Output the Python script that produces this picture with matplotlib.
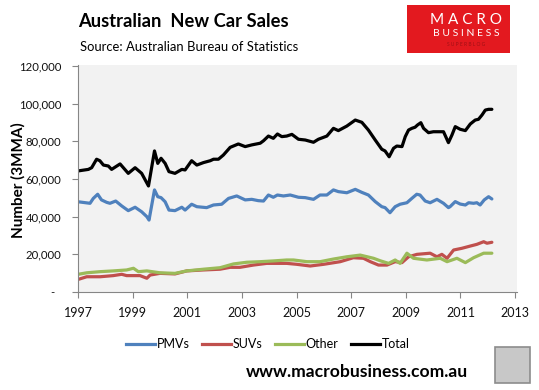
import matplotlib
matplotlib.use("Agg")
import matplotlib.pyplot as plt
from matplotlib.patches import Rectangle
from matplotlib.lines import Line2D

plt.rcParams['font.family'] = ['Lato', 'DejaVu Sans']

# ---- data (decimal years, units) ----
total_years = [1997.01, 1997.38, 1997.50, 1997.68, 1997.80, 1997.93, 1998.11, 1998.23, 1998.54, 1998.84,
               1999.09, 1999.33, 1999.58, 1999.80, 1999.92, 2000.04, 2000.19, 2000.33, 2000.55, 2000.80,
               2000.92, 2001.16, 2001.35, 2001.59, 2001.84, 2001.96, 2002.14, 2002.32, 2002.57, 2002.87,
               2003.12, 2003.36, 2003.67, 2003.79, 2003.97, 2004.15, 2004.30, 2004.46, 2004.64, 2004.83,
               2005.07, 2005.32, 2005.62, 2005.80, 2006.11, 2006.35, 2006.53, 2006.84, 2007.15, 2007.39,
               2007.63, 2007.88, 2008.12, 2008.24, 2008.39, 2008.55, 2008.67, 2008.86, 2008.98, 2009.10,
               2009.22, 2009.34, 2009.43, 2009.55, 2009.65, 2009.83, 2010.01, 2010.20, 2010.38, 2010.56,
               2010.69, 2010.81, 2010.99, 2011.18, 2011.36, 2011.54, 2011.66, 2011.79, 2011.91, 2012.03,
               2012.15]
total_values = [64300, 65100, 66000, 70500, 69700, 67400, 66900, 65100, 68000, 63000,
                66000, 63000, 56300, 74900, 68300, 71000, 68300, 63900, 63000, 65100,
                64800, 69700, 67400, 68700, 69700, 70500, 70500, 72700, 76800, 78600,
                77200, 78100, 79000, 80300, 82800, 81600, 83900, 82500, 82800, 83700,
                81100, 80700, 79500, 81100, 82800, 86900, 85700, 88100, 91300, 90100,
                86000, 80700, 75800, 74900, 71800, 76300, 77500, 77200, 82500, 86000,
                86900, 87500, 88700, 89900, 86900, 84600, 85100, 85100, 85100, 79300,
                83400, 87800, 86400, 85700, 89200, 91300, 91700, 94000, 96600, 97000,
                97000]

pmv_years = [1997.01, 1997.44, 1997.56, 1997.72, 1997.86, 1998.05, 1998.17, 1998.38, 1998.60, 1998.84,
             1999.09, 1999.33, 1999.52, 1999.60, 1999.80, 1999.92, 2000.04, 2000.19, 2000.33, 2000.55,
             2000.80, 2000.92, 2001.16, 2001.35, 2001.71, 2001.96, 2002.26, 2002.51, 2002.81, 2003.12,
             2003.36, 2003.60, 2003.79, 2003.97, 2004.15, 2004.30, 2004.52, 2004.77, 2005.07, 2005.32,
             2005.62, 2005.86, 2006.11, 2006.35, 2006.53, 2006.84, 2007.15, 2007.39, 2007.63, 2007.88,
             2008.12, 2008.24, 2008.42, 2008.61, 2008.79, 2009.04, 2009.22, 2009.40, 2009.52, 2009.71,
             2009.89, 2010.14, 2010.38, 2010.56, 2010.62, 2010.81, 2010.99, 2011.18, 2011.30, 2011.48,
             2011.60, 2011.72, 2011.87, 2012.03, 2012.15]
pmv_values = [47900, 47100, 49700, 51900, 48900, 47600, 47100, 48300, 45700, 43200,
              45000, 42600, 40000, 38200, 54200, 50600, 50100, 47900, 43500, 43200,
              45000, 43500, 46600, 45300, 44800, 46200, 46600, 49700, 51000, 48900,
              49200, 48500, 48300, 51500, 50300, 51500, 51000, 51500, 50300, 50100,
              49200, 51500, 51500, 54200, 53300, 52700, 54500, 52900, 51500, 48000,
              45300, 44800, 42100, 45300, 46600, 47400, 49700, 51900, 51500, 48300,
              47400, 49200, 47100, 44800, 45300, 48000, 46700, 46200, 47400, 47100,
              47400, 46200, 48900, 50600, 49400]

suv_years = [1997.01, 1997.32, 1997.81, 1998.29, 1998.60, 1998.78, 1999.27, 1999.52, 1999.64, 2000.00,
             2000.55, 2000.98, 2001.59, 2002.20, 2002.57, 2002.93, 2003.42, 2003.91, 2004.40, 2004.64,
             2005.01, 2005.50, 2005.99, 2006.60, 2007.08, 2007.45, 2007.70, 2008.00, 2008.31, 2008.61,
             2008.86, 2009.10, 2009.41, 2009.89, 2010.14, 2010.32, 2010.51, 2010.75, 2011.05, 2011.36,
             2011.60, 2011.85, 2011.97, 2012.15]
suv_values = [6700, 8100, 8100, 8700, 9400, 8700, 8700, 7300, 9000, 9900,
              9600, 11200, 11700, 12100, 13100, 13100, 14300, 15200, 15200, 15200,
              14700, 13800, 14700, 16100, 18200, 17900, 16100, 14300, 14300, 16100,
              15600, 18700, 20000, 20600, 18700, 20000, 17900, 22300, 23200, 24400,
              25300, 26700, 25900, 26400]

other_years = [1997.01, 1997.32, 1997.81, 1998.29, 1998.78, 1999.03, 1999.21, 1999.52, 2000.00, 2000.55,
               2000.98, 2001.59, 2002.20, 2002.69, 2003.18, 2003.67, 2004.15, 2004.64, 2004.89, 2005.38,
               2005.86, 2006.35, 2006.84, 2007.33, 2007.82, 2008.06, 2008.37, 2008.61, 2008.79, 2009.04,
               2009.28, 2009.77, 2010.26, 2010.51, 2010.87, 2011.18, 2011.48, 2011.85, 2012.15]
other_values = [9400, 10200, 10800, 11200, 11700, 12600, 10800, 11200, 10200, 9900,
                11200, 12100, 12900, 14900, 15800, 16100, 16500, 17000, 17000, 16100,
                16100, 17500, 18700, 19600, 17900, 16600, 15200, 17000, 15200, 20600,
                17900, 17000, 17900, 16100, 17900, 15600, 18200, 20600, 20600]

series_names = ['PMVs', 'SUVs', 'Other', 'Total']
series_colors = ['#4f81bd', '#c0504d', '#9bbb59', '#000000']
x_ticks = [1997, 1999, 2001, 2003, 2005, 2007, 2009, 2011, 2013]
y_ticks = [0, 20000, 40000, 60000, 80000, 100000, 120000]
y_tick_labels = ['-  ', '20,000', '40,000', '60,000', '80,000', '100,000', '120,000']

W, H = 539, 390
fig = plt.figure(figsize=(W / 100, H / 100), dpi=100)
fig.patch.set_facecolor('white')

ax = fig.add_axes([78 / W, 1 - 292 / H, (517 - 78) / W, (292 - 65) / H])
ax.set_facecolor('#f2f2f2')

lw = 2.3
data = [(pmv_years, pmv_values), (suv_years, suv_values),
        (other_years, other_values), (total_years, total_values)]
for (xs, ys), c, n in zip(data, series_colors, series_names):
    ax.plot(xs, ys, color=c, lw=lw, label=n, solid_joinstyle='round', solid_capstyle='round')

ax.set_xlim(1997, 2013.07)
ax.set_ylim(0, 120531)
ax.set_xticks(x_ticks)
ax.set_xticklabels([str(t) for t in x_ticks])
ax.set_yticks(y_ticks)
ax.set_yticklabels(y_tick_labels)

for s in ['top', 'right']:
    ax.spines[s].set_visible(False)
for s in ['left', 'bottom']:
    ax.spines[s].set_color('#868686')
    ax.spines[s].set_linewidth(0.8)
ax.tick_params(axis='both', direction='out', length=4, width=0.8, color='#868686',
               labelsize=9, labelcolor='#111111')
ax.tick_params(axis='y', pad=8, labelsize=8.2)
ax.tick_params(axis='x', pad=7)

# y label
fig.text(18 / W, 1 - 180 / H, 'Number (3MMA)', rotation=90, fontsize=11, fontweight='bold',
         ha='center', va='center')

# title / subtitle
fig.text(78 / W, 1 - 27 / H, 'Australian  New Car Sales', fontsize=13.2, fontweight='bold',
         ha='left', va='baseline')
fig.text(80 / W, 1 - 51 / H, 'Source: Australian Bureau of Statistics', fontsize=9.4,
         ha='left', va='baseline')

# logo
fig.patches.append(Rectangle((407 / W, 1 - 53 / H), 103 / W, 48 / H, transform=fig.transFigure,
                             facecolor='#e3191f', edgecolor='none', zorder=1))
fig.text(466 / W, 1 - 20 / H, 'M A C R O', fontsize=11, color='white', ha='center', va='center')
fig.text(466 / W, 1 - 33 / H, 'B U S I N E S S', fontsize=7.5, color='white', ha='center', va='center')
fig.text(466 / W, 1 - 44 / H, 'S U P E R B L O G', fontsize=3.5, color='#a01015', ha='center', va='center')

# legend
handles = [Line2D([0], [0], color=c, lw=lw) for c in series_colors]
fig.legend(handles, series_names, loc='center', bbox_to_anchor=(268 / W, 1 - 344 / H), ncol=4,
           frameon=False, fontsize=9, handlelength=2.3, handletextpad=0.15, columnspacing=1.0)

# url
fig.text(357 / W, 1 - 372 / H, 'www.macrobusiness.com.au', fontsize=12.6, fontweight='bold',
         ha='center', va='center')

# wolf box
fig.patches.append(Rectangle((495 / W, 1 - 383 / H), 35 / W, 36 / H, transform=fig.transFigure,
                             facecolor='#c8c8c8', edgecolor='#8c8c8c', linewidth=1.2, zorder=1))

fig.savefig('out.png', dpi=100)
